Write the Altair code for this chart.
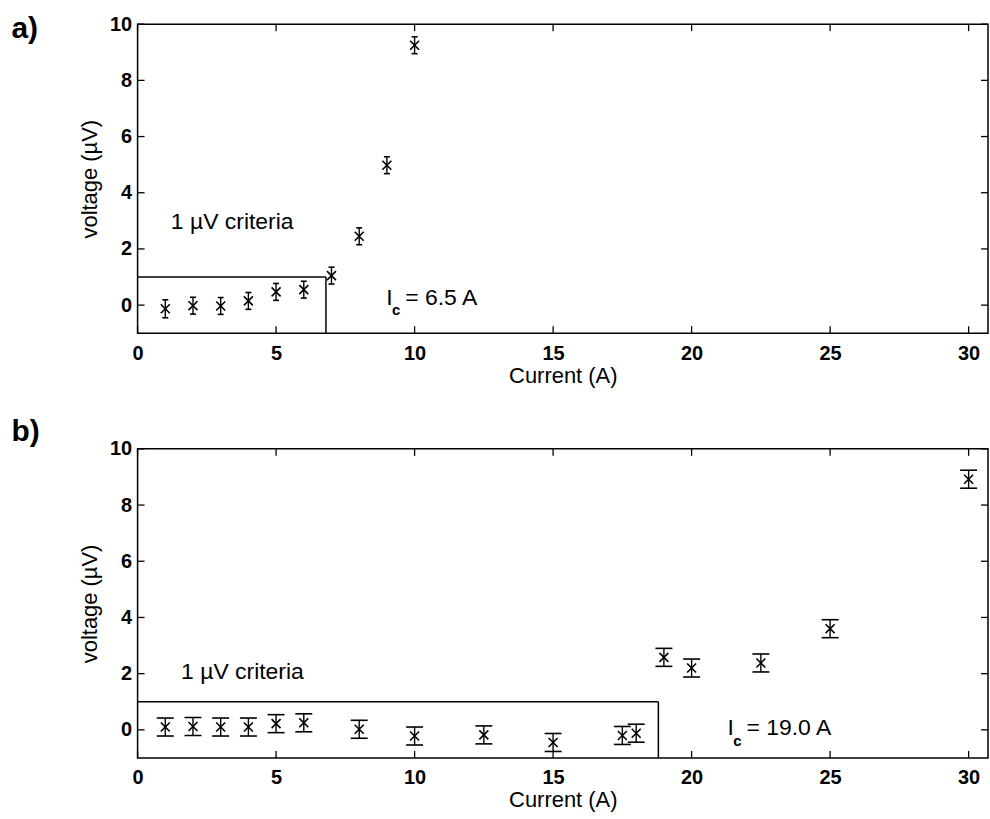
import altair as alt
import pandas as pd

# ---------------- data ----------------
current_a = [1, 2, 3, 4, 5, 6, 7, 8, 9, 10]
voltage_a = [-0.13, -0.02, -0.03, 0.15, 0.47, 0.55, 1.05, 2.45, 4.98, 9.25]
err_a = [0.32, 0.3, 0.3, 0.3, 0.3, 0.3, 0.3, 0.3, 0.3, 0.3]

current_b = [1, 2, 3, 4, 5, 6, 8, 10, 12.5, 15, 17.5, 18, 19, 20, 22.5, 25, 30]
voltage_b = [0.1, 0.12, 0.1, 0.1, 0.22, 0.25, 0.02, -0.22, -0.18, -0.45, -0.2, -0.12,
             2.58, 2.2, 2.38, 3.6, 8.92]
err_b = [0.32, 0.32, 0.32, 0.32, 0.32, 0.32, 0.32, 0.32, 0.32, 0.32, 0.32, 0.32,
         0.32, 0.32, 0.32, 0.32, 0.32]

x_ticks = [0, 5, 10, 15, 20, 25, 30]
y_ticks = [0, 2, 4, 6, 8, 10]

criteria_level = 1.0
criteria_edge_a = 6.8
criteria_edge_b = 18.8
ic_a = "= 6.5 A"
ic_b = "= 19.0 A"
crit_text = "1 \u00b5V criteria"

# ---------------- layout ----------------
W, H = 853, 310
XDOM = [0, 30.7]
YDOM = [-1, 10]
FONT = "Liberation Sans"
TICK = 7

xs = alt.Scale(domain=XDOM, nice=False, zero=False)
ys = alt.Scale(domain=YDOM, nice=False, zero=False)

x_axis = alt.Axis(values=x_ticks, ticks=False, domain=False, grid=False,
                  labelFlush=False, labelPadding=10, title="Current (A)",
                  titlePadding=2, labelOverlap=False)
y_axis = alt.Axis(values=y_ticks, ticks=False, domain=False, grid=False,
                  labelFlush=False, labelPadding=6, title="voltage (\u00b5V)",
                  titlePadding=8, labelOverlap=False)


def X(f):
    return alt.X(f, scale=xs, axis=x_axis)


def Y(f):
    return alt.Y(f, scale=ys, axis=y_axis)


def panel(cur, volt, err, cap, edge, tag, tag_y, crit_xy, ic_xy):
    df = pd.DataFrame({"I": cur, "V": volt, "e": err})
    df["lo"] = df["V"] - df["e"]
    df["hi"] = df["V"] + df["e"]

    pts = alt.Chart(df).mark_point(
        shape="M-1,-1L1,1M-1,1L1,-1", filled=False, stroke="black",
        strokeWidth=1.6, size=81, opacity=1
    ).encode(x=X("I:Q"), y=Y("V:Q"))
    bars = alt.Chart(df).mark_rule(color="black", strokeWidth=1.4).encode(
        x=X("I:Q"), y=Y("lo:Q"), y2="hi:Q")
    cap_lo = alt.Chart(df).mark_tick(orient="horizontal", color="black",
                                     size=cap, thickness=1.6, opacity=1).encode(
        x=X("I:Q"), y=Y("lo:Q"))
    cap_hi = alt.Chart(df).mark_tick(orient="horizontal", color="black",
                                     size=cap, thickness=1.6, opacity=1).encode(
        x=X("I:Q"), y=Y("hi:Q"))

    # criteria box
    hline = alt.Chart(pd.DataFrame({"x0": [0], "x1": [edge], "y": [criteria_level]})
                      ).mark_rule(color="black", strokeWidth=1.5).encode(
        x=X("x0:Q"), x2="x1:Q", y=Y("y:Q"))
    vline = alt.Chart(pd.DataFrame({"x": [edge], "y0": [YDOM[0]], "y1": [criteria_level]})
                      ).mark_rule(color="black", strokeWidth=1.5).encode(
        x=X("x:Q"), y=Y("y0:Q"), y2="y1:Q")

    # inward ticks on all four sides
    xt = pd.DataFrame({"t": x_ticks})
    yt = pd.DataFrame({"t": y_ticks})
    tb = alt.Chart(xt).mark_rule(color="black", strokeWidth=1.3).encode(
        x=X("t:Q"), y=alt.value(H), y2=alt.value(H - TICK))
    tt = alt.Chart(xt).mark_rule(color="black", strokeWidth=1.3).encode(
        x=X("t:Q"), y=alt.value(0), y2=alt.value(TICK))
    tl = alt.Chart(yt).mark_rule(color="black", strokeWidth=1.3).encode(
        y=Y("t:Q"), x=alt.value(0), x2=alt.value(TICK))
    tr = alt.Chart(yt).mark_rule(color="black", strokeWidth=1.3).encode(
        y=Y("t:Q"), x=alt.value(W), x2=alt.value(W - TICK))

    # annotations
    crit = alt.Chart(pd.DataFrame({"x": [crit_xy[0]], "y": [crit_xy[1]], "s": [crit_text]})
                     ).mark_text(align="left", baseline="middle", font=FONT,
                                 fontSize=23, color="black").encode(
        x=X("x:Q"), y=Y("y:Q"), text="s:N")
    ix, iy, itxt = ic_xy
    ic_I = alt.Chart(pd.DataFrame({"x": [ix], "y": [iy], "s": ["I"]})
                     ).mark_text(align="left", baseline="alphabetic", font=FONT,
                                 fontSize=23, color="black").encode(
        x=X("x:Q"), y=Y("y:Q"), text="s:N")
    ic_c = alt.Chart(pd.DataFrame({"x": [ix + 0.2], "y": [iy - 0.36], "s": ["c"]})
                     ).mark_text(align="left", baseline="alphabetic", font=FONT,
                                 fontSize=15, fontWeight="bold", color="black").encode(
        x=X("x:Q"), y=Y("y:Q"), text="s:N")
    ic_eq = alt.Chart(pd.DataFrame({"x": [ix + 0.68], "y": [iy], "s": [itxt]})
                      ).mark_text(align="left", baseline="alphabetic", font=FONT,
                                  fontSize=23, color="black").encode(
        x=X("x:Q"), y=Y("y:Q"), text="s:N")

    tag_mark = alt.Chart(pd.DataFrame({"s": [tag]})).mark_text(
        align="left", baseline="middle", font=FONT, fontSize=30,
        fontWeight="bold", color="black").encode(
        x=alt.value(-126.5), y=alt.value(tag_y), text="s:N")

    return alt.layer(pts, bars, cap_lo, cap_hi, hline, vline, tb, tt, tl, tr,
                     crit, ic_I, ic_c, ic_eq, tag_mark).properties(width=W, height=H)


pa = panel(current_a, voltage_a, err_a, 6, criteria_edge_a, "a)", 4.5,
           (1.2, 2.95), (8.98, 0.0, ic_a))
pb = panel(current_b, voltage_b, err_b, 17, criteria_edge_b, "b)", -16.5,
           (1.57, 2.06), (21.3, -0.2, ic_b))

chart = alt.vconcat(pa, pb, spacing=116, bounds="flush").properties(
    padding={"left": 10, "top": 11, "right": 0, "bottom": 0},
    background="white",
).configure_view(stroke="black", strokeWidth=1.5).configure_axis(
    labelFont=FONT, labelFontSize=20, labelFontWeight="bold", labelColor="black",
    titleFont=FONT, titleFontSize=22, titleFontWeight="normal", titleColor="black",
)

chart.save("out.html", embed_options={"renderer": "svg", "actions": False})
